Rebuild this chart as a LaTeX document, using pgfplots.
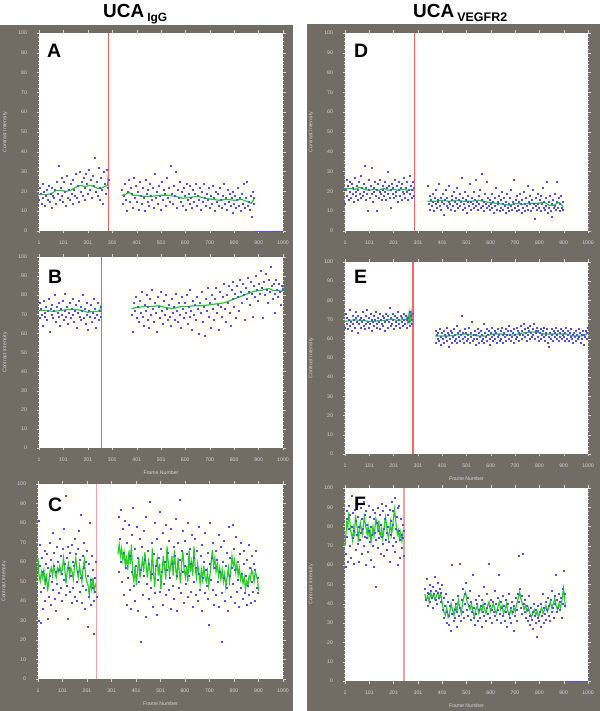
\documentclass[border=0pt]{standalone}
\usepackage{pgfplots}
\pgfplotsset{compat=1.18}
\usepackage{fontspec}
\setmainfont{Liberation Sans}
\definecolor{bgc}{RGB}{113,109,101}
\definecolor{tickc}{RGB}{215,212,205}
\definecolor{dotc}{RGB}{80,80,250}
\definecolor{avgc}{RGB}{40,205,40}
\definecolor{redc}{RGB}{250,100,100}
\definecolor{pinkc}{RGB}{245,160,160}
\pgfplotsset{
  panel/.style={
    scale only axis, xmin=1, xmax=1000, ymin=0, ymax=100,
    axis background/.style={fill=white},
    axis line style={draw=none},
    xtick={1,101,201,301,401,501,600,700,800,900,1000},
    xticklabels={1,101,201,301,401,501,600,700,800,900,1000},
    ytick={0,10,...,100},
    minor x tick num=9, minor y tick num=4,
    tick align=outside,
    major tick length=2.5bp, minor tick length=1.3bp,
    tick style={draw=tickc, line width=0.35bp},
    ticklabel style={font=\fontsize{5.2}{6}\selectfont, text=tickc},
    /pgf/number format/assume math mode=true,
    xticklabel style={yshift=-4bp},
    yticklabel style={xshift=-6bp},
    ylabel={Contrast Intensity},
    every axis y label/.style={at={(rel axis cs:0,0.5)}, xshift=-34bp, rotate=90, anchor=center, font=\fontsize{5.2}{6}\selectfont, text=tickc},
    every axis x label/.style={at={(rel axis cs:0.5,0)}, yshift=-25bp, anchor=center, font=\fontsize{5.2}{6}\selectfont, text=tickc},
    clip=false,
  },
  dots/.style={only marks, mark=square*, mark size=0.5bp, color=dotc, mark options={draw=none, fill=dotc, fill opacity=0.8}},
  avg/.style={no marks, color=avgc, line width=1.2bp},
  vline/.style={no marks, color=redc, line width=1bp},
  vlinew/.style={no marks, color=pinkc, line width=1.3bp},
}
\begin{document}
\begin{tikzpicture}[x=1bp,y=1bp]
\useasboundingbox (0,0) rectangle (600,711);
\fill[bgc] (0,0) rectangle (293,686);
\fill[bgc] (307,0) rectangle (600,687);
\node[anchor=base west, inner sep=0, font=\fontsize{19}{19}\selectfont\bfseries] at (103,693) {UCA\,\raisebox{-3.5bp}{\fontsize{12}{12}\selectfont IgG}};
\node[anchor=base west, inner sep=0, font=\fontsize{19}{19}\selectfont\bfseries] at (413,693) {UCA\,\raisebox{-3.5bp}{\fontsize{12.5}{12.5}\selectfont VEGFR2}};

% ---------------- A ----------------
\begin{axis}[panel, at={(39bp,480bp)}, anchor=south west, width=244bp, height=198bp]
\addplot[dots] coordinates {(1,16)(5,22)(9,19)(12,14)(15,24)(18,17)(22,20)(26,13)(29,18)(33,21)(36,16)(40,23)(44,15)(47,19)(51,12)(55,22)(58,18)(62,17)(66,21)(70,14)(73,25)(77,19)(80,33)(84,16)(88,22)(92,18)(95,27)(99,15)(103,25)(107,20)(110,13)(114,28)(118,17)(122,21)(126,16)(130,24)(134,19)(137,14)(141,26)(145,21)(149,18)(152,29)(156,17)(160,23)(164,15)(168,30)(171,20)(175,25)(179,18)(183,27)(187,22)(190,16)(194,29)(198,24)(202,19)(206,31)(210,21)(213,26)(217,17)(221,28)(225,23)(229,37)(232,20)(236,25)(240,18)(244,32)(248,22)(251,16)(255,27)(259,21)(262,14)(266,30)(270,24)(274,19)(278,31)(282,22)(285,26)};
\addplot[dots] coordinates {(340,21)(344,14)(348,18)(352,24)(356,16)(360,10)(364,20)(368,26)(372,15)(376,22)(380,19)(384,12)(388,27)(392,17)(396,23)(400,15)(404,20)(408,11)(412,25)(416,18)(420,14)(424,22)(428,17)(432,10)(436,26)(440,19)(444,15)(448,21)(452,13)(456,24)(460,18)(464,16)(468,22)(472,12)(476,29)(480,17)(484,20)(488,14)(492,23)(496,18)(500,11)(504,25)(508,16)(512,21)(516,19)(520,13)(524,27)(528,17)(532,22)(536,15)(540,33)(544,19)(548,14)(552,23)(556,18)(560,30)(564,12)(568,21)(572,17)(576,25)(580,15)(584,20)(588,13)(592,22)(596,18)(600,11)(604,24)(608,16)(612,19)(616,14)(620,23)(624,17)(628,12)(632,21)(636,15)(640,19)(644,24)(648,13)(652,18)(656,16)(660,22)(664,11)(668,20)(672,15)(676,24)(680,17)(684,13)(688,19)(692,16)(696,22)(700,12)(704,18)(708,14)(712,23)(716,17)(720,10)(724,20)(728,15)(732,19)(736,13)(740,22)(744,16)(748,12)(752,18)(756,24)(760,14)(764,17)(768,11)(772,21)(776,15)(780,19)(784,13)(788,17)(792,9)(796,20)(800,14)(804,18)(808,12)(812,16)(816,22)(820,13)(824,17)(828,10)(832,19)(836,14)(840,24)(844,12)(848,17)(852,25)(856,13)(860,15)(864,11)(868,18)(872,7)(876,20)(880,14)(882,17)};
\addplot[avg] coordinates {(1,18.5)(20,18.5)(40,18.5)(55,19)(70,20.5)(90,20.5)(110,20)(130,20.5)(150,22)(170,23)(190,22.5)(210,23)(225,22.5)(240,21.5)(255,21.5)(270,22.5)(282,23)(285,29)};
\addplot[avg] coordinates {(340,18)(355,18.5)(370,19.5)(385,18)(400,18)(430,17.5)(460,17.5)(500,18)(530,18)(560,17.5)(590,16.5)(620,17)(650,17.5)(680,16.5)(710,16)(740,15.5)(770,16)(800,15.5)(830,16)(850,15)(870,14)(878,15.5)(882,16)};
\addplot[vline] coordinates {(285,0)(285,100)};
\addplot[no marks, color=dotc, line width=0.8bp] coordinates {(881,0)(1000,0)};
\end{axis}

% ---------------- B ----------------
\begin{axis}[panel, at={(39bp,263bp)}, anchor=south west, width=244bp, height=191bp, xlabel={Frame Number}]
\addplot[dots] coordinates {(2,68)(5,76)(9,73)(12,70)(16,64)(19,77)(23,71)(26,69)(30,74)(34,67)(37,72)(41,78)(44,61)(48,73)(51,70)(55,75)(58,68)(62,72)(65,80)(69,66)(73,74)(76,71)(80,69)(83,76)(87,64)(90,73)(94,70)(98,77)(101,67)(105,72)(108,81)(112,69)(116,74)(119,65)(123,71)(126,76)(130,68)(134,73)(137,70)(141,78)(144,66)(148,72)(152,75)(155,63)(159,71)(162,77)(166,69)(170,74)(173,67)(177,72)(180,80)(184,68)(188,73)(191,65)(195,70)(198,76)(202,62)(206,72)(209,69)(213,75)(216,66)(220,71)(224,78)(227,68)(231,73)(234,63)(238,70)(242,76)(245,67)(249,72)(252,74)(255,69)};
\addplot[dots] coordinates {(380,70)(384,61)(388,76)(392,72)(396,79)(400,68)(404,74)(408,66)(412,77)(416,71)(420,82)(424,69)(428,64)(432,75)(436,72)(440,80)(444,67)(448,74)(452,63)(456,78)(460,70)(464,83)(468,73)(472,66)(476,76)(480,71)(484,61)(488,79)(492,74)(496,68)(500,82)(504,72)(508,65)(512,77)(516,70)(520,80)(524,73)(528,67)(532,75)(536,69)(540,64)(544,78)(548,71)(552,74)(556,67)(560,81)(564,72)(568,66)(572,76)(576,70)(580,63)(584,79)(588,73)(592,68)(596,76)(600,71)(604,80)(608,65)(612,74)(616,69)(620,83)(624,72)(628,62)(632,77)(636,70)(640,75)(644,67)(648,79)(652,73)(656,60)(660,76)(664,71)(668,82)(672,66)(676,74)(680,59)(684,78)(688,72)(692,84)(696,69)(700,76)(704,63)(708,80)(712,73)(716,67)(720,78)(724,84)(728,71)(732,75)(736,62)(740,82)(744,74)(748,69)(752,79)(756,86)(760,73)(764,66)(768,80)(772,76)(776,85)(780,71)(784,64)(788,83)(792,78)(796,87)(800,74)(804,81)(808,68)(812,85)(816,79)(820,72)(824,88)(828,82)(832,76)(836,86)(840,80)(844,67)(848,84)(852,78)(856,89)(860,82)(864,75)(868,87)(872,81)(876,69)(880,85)(884,79)(888,90)(892,83)(896,77)(900,86)(904,81)(908,93)(912,84)(916,68)(920,87)(924,80)(928,91)(932,83)(936,76)(940,88)(944,82)(948,95)(952,85)(956,78)(960,86)(964,81)(968,71)(972,88)(976,83)(980,79)(984,86)(988,82)(992,75)(996,85)(1000,83)};
\addplot[avg] coordinates {(1,72)(30,72)(60,71.5)(90,72)(120,72.5)(150,72.5)(180,72)(200,71)(220,71.5)(240,71.5)(250,72)(255,75)};
\addplot[avg] coordinates {(380,73)(400,73.5)(430,74)(460,74)(490,74.5)(520,73.5)(550,73)(580,74)(610,74)(640,74.5)(670,74.5)(700,75)(730,75.5)(760,76)(790,77.5)(820,79)(850,80.5)(880,82)(910,82.5)(940,83.5)(960,82.5)(980,82.5)(995,82)(1000,84)};
\addplot[vline] coordinates {(255,0)(255,100)};
\end{axis}

% ---------------- C ----------------
\begin{axis}[panel, at={(38bp,32bp)}, anchor=south west, width=245bp, height=195bp, xlabel={Frame Number}]
\addplot[dots] coordinates {(2,81)(4,30)(7,58)(9,69)(12,45)(14,29)(17,62)(19,36)(22,55)(24,47)(27,66)(29,40)(32,59)(34,51)(37,64)(39,31)(42,57)(44,42)(47,70)(49,53)(52,61)(54,38)(57,50)(59,75)(62,46)(64,58)(67,65)(69,41)(72,55)(74,35)(77,68)(79,49)(82,60)(84,44)(87,56)(89,72)(92,47)(94,63)(97,40)(99,54)(102,67)(104,77)(107,51)(109,59)(112,43)(114,94)(117,62)(119,48)(122,68)(124,31)(127,57)(129,45)(132,65)(134,53)(137,69)(139,39)(142,60)(144,47)(147,58)(149,72)(152,42)(154,64)(157,50)(159,40)(162,67)(164,55)(167,76)(169,45)(172,61)(174,84)(177,52)(179,39)(182,63)(184,48)(187,70)(189,57)(192,36)(194,60)(197,46)(199,66)(202,53)(204,27)(207,59)(209,42)(212,80)(214,51)(217,38)(219,63)(222,47)(224,56)(227,40)(229,23)(232,52)(234,45)(237,60)(239,42)};
\addplot[dots] coordinates {(328,55)(331,83)(334,72)(337,60)(340,87)(343,50)(346,77)(349,43)(352,65)(355,81)(358,57)(361,38)(364,70)(367,52)(370,79)(373,46)(376,63)(379,36)(382,74)(385,55)(388,88)(391,48)(394,67)(397,40)(400,58)(403,78)(406,35)(409,62)(412,50)(415,72)(418,19)(421,56)(424,68)(427,43)(430,76)(433,53)(436,61)(439,32)(442,83)(445,49)(448,66)(451,41)(454,59)(457,91)(460,47)(463,70)(466,54)(469,37)(472,64)(475,80)(478,44)(481,58)(484,33)(487,72)(490,51)(493,62)(496,86)(499,45)(502,67)(505,55)(508,38)(511,75)(514,49)(517,60)(520,43)(523,79)(526,56)(529,65)(532,46)(535,71)(538,52)(541,36)(544,77)(547,59)(550,48)(553,68)(556,41)(559,63)(562,82)(565,53)(568,35)(571,70)(574,47)(577,61)(580,92)(583,44)(586,66)(589,55)(592,76)(595,39)(598,58)(601,71)(604,49)(607,64)(610,42)(613,80)(616,53)(619,67)(622,45)(625,59)(628,74)(631,37)(634,62)(637,50)(640,72)(643,43)(646,57)(649,66)(652,40)(655,78)(658,54)(661,46)(664,63)(667,35)(670,69)(673,52)(676,60)(679,44)(682,75)(685,56)(688,48)(691,65)(694,41)(697,28)(700,59)(703,80)(706,51)(709,62)(712,46)(715,70)(718,38)(721,57)(724,66)(727,43)(730,61)(733,50)(736,74)(739,37)(742,55)(745,68)(748,44)(751,19)(754,60)(757,52)(760,71)(763,40)(766,58)(769,47)(772,65)(775,35)(778,78)(781,53)(784,62)(787,42)(790,57)(793,79)(796,49)(799,67)(802,39)(805,56)(808,73)(811,45)(814,60)(817,51)(820,37)(823,64)(826,47)(829,70)(832,54)(835,41)(838,59)(841,66)(844,44)(847,53)(850,38)(853,61)(856,48)(859,69)(862,43)(865,57)(868,39)(871,63)(874,50)(877,45)(880,59)(883,40)(886,56)(889,66)(892,47)(895,52)(898,44)};
\addplot[avg] coordinates {(1,62)(5,53)(10,50)(15,55)(20,52)(25,56)(30,48)(35,54)(40,45)(45,50)(50,55)(55,57)(60,53)(65,58)(70,55)(75,52)(80,57)(85,55)(90,58)(95,54)(100,56)(105,62)(110,57)(115,49)(120,55)(125,59)(130,53)(135,57)(140,55)(145,51)(150,58)(155,62)(160,56)(165,52)(170,58)(175,54)(180,50)(185,57)(190,61)(195,53)(200,50)(205,48)(210,43)(215,50)(220,46)(225,52)(230,45)(235,48)(240,50)};
\addplot[avg] coordinates {(327,64)(332,69)(337,63)(342,67)(347,61)(352,65)(357,58)(362,62)(367,56)(372,66)(377,59)(382,69)(387,54)(392,50)(397,58)(402,48)(407,55)(412,62)(417,52)(422,57)(427,61)(432,55)(437,65)(442,58)(447,52)(452,60)(457,56)(462,50)(467,67)(472,55)(477,47)(482,58)(487,62)(492,53)(497,59)(502,46)(507,55)(512,63)(517,57)(522,51)(527,68)(532,60)(537,54)(542,58)(547,63)(552,53)(557,66)(562,57)(567,51)(572,62)(577,55)(582,49)(587,60)(592,65)(597,56)(602,52)(607,58)(612,50)(617,66)(622,55)(627,60)(632,53)(637,68)(642,57)(647,52)(652,59)(657,54)(662,49)(667,56)(672,51)(677,58)(682,52)(687,50)(692,55)(697,48)(702,53)(707,60)(712,66)(717,58)(722,62)(727,55)(732,59)(737,53)(742,57)(747,51)(752,56)(757,50)(762,54)(767,47)(772,52)(777,57)(782,50)(787,55)(792,63)(797,58)(802,61)(807,55)(812,59)(817,53)(822,57)(827,51)(832,54)(837,49)(842,52)(847,46)(852,50)(857,48)(862,53)(867,51)(872,56)(877,54)(882,50)(887,55)(892,53)(897,50)(900,45)};
\addplot[vlinew] coordinates {(240,0)(240,100)};
\end{axis}

% ---------------- D ----------------
\begin{axis}[panel, at={(345bp,480bp)}, anchor=south west, width=243bp, height=198bp]
\addplot[dots] coordinates {(1,14)(4,21)(7,26)(10,18)(13,23)(16,16)(19,25)(22,20)(25,17)(28,24)(31,19)(34,22)(37,15)(40,27)(43,20)(46,18)(49,23)(52,16)(55,21)(58,25)(61,19)(64,17)(67,28)(70,22)(73,18)(76,24)(79,20)(82,33)(85,16)(88,22)(91,19)(94,10)(97,26)(100,21)(103,17)(106,23)(109,19)(112,32)(115,15)(118,22)(121,20)(124,25)(127,18)(130,10)(133,21)(136,24)(139,17)(142,20)(145,26)(148,19)(151,16)(154,23)(157,21)(160,18)(163,25)(166,20)(169,16)(172,22)(175,30)(178,19)(181,23)(184,17)(187,21)(190,12)(193,24)(196,19)(199,22)(202,17)(205,26)(208,20)(211,18)(214,23)(217,15)(220,21)(223,25)(226,18)(229,22)(232,16)(235,24)(238,20)(241,19)(244,27)(247,17)(250,22)(253,20)(256,25)(259,16)(262,21)(265,28)(268,19)(271,23)(274,17)(277,21)(280,25)(283,18)(285,22)};
\addplot[dots] coordinates {(342,23)(345,14)(348,18)(351,11)(354,16)(357,13)(360,19)(363,15)(366,10)(369,17)(372,14)(375,21)(378,12)(381,16)(384,15)(387,24)(390,13)(393,17)(396,11)(399,15)(402,19)(405,14)(408,8)(411,16)(414,21)(417,13)(420,17)(423,12)(426,15)(429,23)(432,14)(435,11)(438,18)(441,16)(444,13)(447,20)(450,15)(453,10)(456,17)(459,14)(462,22)(465,12)(468,16)(471,19)(474,13)(477,15)(480,27)(483,11)(486,17)(489,14)(492,20)(495,12)(498,16)(501,9)(504,15)(507,18)(510,13)(513,24)(516,15)(519,11)(522,17)(525,14)(528,20)(531,12)(534,16)(537,13)(540,26)(543,15)(546,11)(549,18)(552,14)(555,21)(558,12)(561,16)(564,29)(567,13)(570,15)(573,10)(576,19)(579,14)(582,12)(585,25)(588,17)(591,13)(594,11)(597,16)(600,14)(603,19)(606,12)(609,15)(612,9)(615,17)(618,13)(621,22)(624,11)(627,15)(630,14)(633,18)(636,10)(639,16)(642,12)(645,20)(648,14)(651,11)(654,17)(657,13)(660,9)(663,15)(666,19)(669,12)(672,14)(675,10)(678,17)(681,13)(684,21)(687,11)(690,15)(693,14)(696,26)(699,12)(702,16)(705,10)(708,18)(711,13)(714,15)(717,11)(720,19)(723,14)(726,9)(729,16)(732,12)(735,20)(738,14)(741,10)(744,17)(747,13)(750,23)(753,11)(756,15)(759,14)(762,18)(765,10)(768,16)(771,12)(774,21)(777,14)(780,6)(783,17)(786,13)(789,11)(792,19)(795,14)(798,12)(801,16)(804,10)(807,18)(810,14)(813,22)(816,12)(819,15)(822,11)(825,17)(828,13)(831,25)(834,9)(837,15)(840,12)(843,18)(846,10)(849,14)(852,7)(855,16)(858,12)(861,19)(864,13)(867,11)(870,25)(873,15)(876,12)(879,17)(882,10)(885,14)(888,18)(891,12)(894,15)(897,11)};
\addplot[avg] coordinates {(1,21.5)(20,21.5)(40,21)(60,22)(80,21)(100,20.5)(120,21)(140,20.5)(160,21.5)(180,20.5)(200,21)(220,20.5)(240,21)(260,20.5)(280,21)(285,20.5)};
\addplot[avg] coordinates {(340,15)(370,15)(400,15.5)(430,15)(460,15.5)(490,15)(520,15)(550,15.5)(570,15)(590,14.5)(620,14)(650,13.5)(680,13)(700,14)(730,13.5)(760,14)(790,14)(820,14.5)(840,13)(860,13)(880,14.5)(890,13.5)(898,12)};
\addplot[vline] coordinates {(285,0)(285,100)};
\end{axis}

% ---------------- E ----------------
\begin{axis}[panel, at={(345bp,257bp)}, anchor=south west, width=243bp, height=192bp, xlabel={Frame Number}]
\addplot[dots] coordinates {(1,66)(4,73)(7,68)(10,71)(13,65)(16,70)(19,67)(22,75)(25,69)(28,64)(31,72)(34,68)(37,70)(40,66)(43,74)(46,71)(49,69)(52,63)(55,72)(58,68)(61,70)(64,66)(67,71)(70,69)(73,74)(76,67)(79,70)(82,65)(85,72)(88,68)(91,75)(94,69)(97,66)(100,71)(103,68)(106,73)(109,70)(112,64)(115,69)(118,72)(121,67)(124,70)(127,74)(130,68)(133,66)(136,71)(139,69)(142,73)(145,65)(148,70)(151,68)(154,72)(157,67)(160,71)(163,69)(166,64)(169,73)(172,70)(175,66)(178,72)(181,69)(184,76)(187,67)(190,71)(193,68)(196,73)(199,70)(202,65)(205,72)(208,69)(211,67)(214,71)(217,74)(220,68)(223,70)(226,66)(229,72)(232,69)(235,71)(238,67)(241,73)(244,70)(247,68)(250,72)(253,70)(256,66)(259,71)(262,69)(265,74)(268,67)(271,72)(274,70)(277,68)(280,73)};
\addplot[dots] coordinates {(372,64)(375,58)(378,62)(381,60)(384,63)(387,59)(390,65)(393,61)(396,57)(399,63)(402,60)(405,64)(408,58)(411,62)(414,61)(417,66)(420,59)(423,63)(426,56)(429,62)(432,60)(435,64)(438,58)(441,63)(444,61)(447,65)(450,59)(453,62)(456,60)(459,67)(462,58)(465,63)(468,61)(471,64)(474,59)(477,62)(480,72)(483,60)(486,63)(489,58)(492,65)(495,61)(498,63)(501,59)(504,62)(507,60)(510,66)(513,58)(516,63)(519,61)(522,69)(525,59)(528,62)(531,60)(534,64)(537,57)(540,62)(543,60)(546,65)(549,58)(552,63)(555,61)(558,64)(561,59)(564,62)(567,60)(570,68)(573,58)(576,63)(579,61)(582,65)(585,59)(588,62)(591,64)(594,60)(597,57)(600,63)(603,61)(606,66)(609,59)(612,62)(615,64)(618,60)(621,63)(624,58)(627,65)(630,61)(633,62)(636,59)(639,64)(642,60)(645,66)(648,62)(651,58)(654,63)(657,61)(660,65)(663,59)(666,62)(669,64)(672,60)(675,67)(678,62)(681,59)(684,64)(687,61)(690,63)(693,58)(696,65)(699,62)(702,60)(705,66)(708,61)(711,64)(714,59)(717,63)(720,62)(723,67)(726,60)(729,64)(732,62)(735,68)(738,61)(741,65)(744,63)(747,59)(750,66)(753,62)(756,64)(759,60)(762,67)(765,63)(768,61)(771,65)(774,62)(777,68)(780,60)(783,64)(786,63)(789,66)(792,61)(795,64)(798,59)(801,63)(804,65)(807,60)(810,62)(813,64)(816,61)(819,66)(822,59)(825,63)(828,62)(831,65)(834,58)(837,61)(840,56)(843,63)(846,60)(849,65)(852,62)(855,59)(858,64)(861,61)(864,63)(867,66)(870,60)(873,62)(876,64)(879,59)(882,63)(885,61)(888,65)(891,60)(894,62)(897,64)(900,61)(903,59)(906,63)(909,66)(912,60)(915,62)(918,64)(921,59)(924,63)(927,61)(930,65)(933,60)(936,62)(939,58)(942,63)(945,61)(948,64)(951,59)(954,62)(957,60)(960,65)(963,61)(966,63)(969,58)(972,62)(975,60)(978,64)(981,57)(984,62)(987,61)(990,64)(993,60)(996,63)(999,66)};
\addplot[avg] coordinates {(1,69)(20,69.5)(40,70)(60,69.5)(80,69.5)(100,69)(120,69)(140,69.5)(160,69.5)(180,70)(200,70)(220,69.5)(240,70)(250,70)(255,71)(258,69)(261,72)(264,69)(267,73)(270,70)(273,73)(276,70)(279,75)(281,71)};
\addplot[avg] coordinates {(370,61.5)(400,61.5)(430,61.5)(460,62)(490,62.5)(520,62)(550,61.5)(580,61.5)(610,62.5)(640,62.5)(670,62)(700,62)(730,63)(760,63.5)(790,63.5)(820,62.5)(850,62.5)(880,62.5)(910,62.5)(940,61.5)(970,61.5)(990,62)(1000,63.5)};
\addplot[vline, line width=1.6bp] coordinates {(281,0)(281,100)};
\end{axis}

% ---------------- F ----------------
\begin{axis}[panel, at={(345bp,30bp)}, anchor=south west, width=243bp, height=193bp, xlabel={Frame Number}]
\addplot[dots] coordinates {(2,66)(4,59)(6,88)(8,75)(10,84)(13,62)(15,79)(17,91)(20,70)(22,86)(24,64)(27,80)(29,96)(31,74)(34,87)(36,61)(38,78)(41,89)(43,68)(45,83)(48,76)(50,95)(52,71)(55,85)(57,62)(59,80)(62,73)(64,90)(66,77)(69,66)(71,84)(73,79)(76,93)(78,70)(80,86)(83,75)(85,60)(87,88)(90,74)(92,81)(94,67)(97,91)(99,78)(101,72)(104,85)(106,63)(108,80)(111,76)(113,89)(115,70)(118,84)(120,59)(122,77)(125,87)(127,73)(129,49)(132,82)(134,69)(136,90)(139,78)(141,74)(143,86)(146,66)(148,81)(150,92)(153,75)(155,71)(157,88)(160,79)(162,65)(164,84)(167,73)(169,91)(171,77)(174,68)(176,86)(178,80)(181,72)(183,89)(185,62)(188,83)(190,76)(192,93)(195,70)(197,81)(199,88)(202,74)(204,67)(206,95)(209,79)(211,72)(213,85)(216,90)(218,60)(220,78)(223,91)(225,73)(227,64)(230,84)(232,76)(234,69)(237,81)(239,74)(241,65)(243,78)};
\addplot[dots] coordinates {(330,48)(333,42)(336,53)(339,46)(342,39)(345,45)(348,50)(351,41)(354,47)(357,43)(360,49)(363,38)(366,45)(369,54)(372,42)(375,47)(378,40)(381,46)(384,51)(387,43)(390,48)(393,41)(396,46)(399,50)(402,37)(405,43)(408,33)(411,39)(414,45)(417,30)(420,36)(423,41)(426,29)(429,34)(432,39)(435,26)(438,60)(441,35)(444,42)(447,31)(450,37)(453,33)(456,40)(459,28)(462,36)(465,44)(468,34)(471,61)(474,38)(477,31)(480,42)(483,36)(486,48)(489,33)(492,45)(495,40)(498,51)(501,37)(504,43)(507,34)(510,39)(513,47)(516,32)(519,41)(522,36)(525,55)(528,33)(531,38)(534,29)(537,42)(540,35)(543,40)(546,31)(549,37)(552,44)(555,33)(558,39)(561,28)(564,42)(567,36)(570,49)(573,34)(576,40)(579,31)(582,38)(585,45)(588,35)(591,61)(594,39)(597,33)(600,42)(603,37)(606,30)(609,41)(612,36)(615,47)(618,34)(621,40)(624,32)(627,43)(630,37)(633,55)(636,35)(639,41)(642,30)(645,38)(648,44)(651,34)(654,39)(657,31)(660,42)(663,36)(666,28)(669,40)(672,35)(675,45)(678,33)(681,38)(684,30)(687,41)(690,36)(693,26)(696,39)(699,34)(702,43)(705,37)(708,31)(711,45)(714,65)(717,41)(720,48)(723,38)(726,44)(729,35)(732,66)(735,40)(738,36)(741,42)(744,33)(747,39)(750,31)(753,37)(756,44)(759,34)(762,29)(765,38)(768,32)(771,36)(774,27)(777,40)(780,34)(783,30)(786,37)(789,23)(792,33)(795,39)(798,31)(801,36)(804,28)(807,40)(810,34)(813,45)(816,30)(819,38)(822,35)(825,41)(828,32)(831,37)(834,43)(837,34)(840,39)(843,31)(846,42)(849,36)(852,47)(855,38)(858,33)(861,44)(864,40)(867,55)(870,36)(873,42)(876,38)(879,45)(882,41)(885,37)(888,43)(891,33)(894,48)(897,40)(900,57)(903,45)(906,39)};
\addplot[avg] coordinates {(1,70)(4,75)(8,82)(12,80)(16,86)(20,84)(24,78)(28,76)(32,73)(36,79)(40,75)(44,86)(48,82)(52,79)(56,72)(60,78)(64,82)(68,79)(72,76)(76,80)(80,85)(84,82)(88,79)(92,76)(96,80)(100,75)(104,78)(108,72)(112,76)(116,80)(120,75)(124,79)(128,84)(132,82)(136,78)(140,83)(144,76)(148,75)(152,79)(156,74)(160,77)(164,82)(168,85)(172,80)(176,76)(180,74)(184,78)(188,82)(192,76)(196,79)(200,84)(204,89)(208,85)(212,80)(216,76)(220,78)(224,74)(228,77)(232,73)(236,76)(240,72)(243,74)};
\addplot[avg] coordinates {(329,45)(335,42)(341,44)(347,41)(353,46)(359,43)(365,45)(371,42)(377,44)(383,46)(389,43)(395,45)(401,40)(407,36)(413,34)(419,38)(425,33)(431,35)(437,40)(443,37)(449,34)(455,39)(461,36)(467,42)(473,38)(479,35)(485,41)(491,44)(497,46)(503,41)(509,39)(515,37)(521,40)(527,36)(533,33)(539,37)(545,39)(551,35)(557,38)(563,36)(569,40)(575,37)(581,35)(587,39)(593,41)(599,36)(605,38)(611,40)(617,37)(623,35)(629,38)(635,41)(641,37)(647,39)(653,35)(659,37)(665,40)(671,36)(677,34)(683,37)(689,35)(695,38)(701,36)(707,40)(713,43)(719,46)(725,42)(731,40)(737,37)(743,39)(749,36)(755,38)(761,35)(767,33)(773,35)(779,37)(785,34)(791,36)(797,33)(803,36)(809,38)(815,35)(821,37)(827,39)(833,36)(839,38)(845,41)(851,38)(857,40)(863,43)(869,39)(875,37)(881,40)(887,38)(893,42)(899,48)(903,44)(907,38)};
\addplot[vlinew] coordinates {(243,0)(243,100)};
\addplot[no marks, color=dotc, line width=0.8bp] coordinates {(905,0)(1000,0)};
\end{axis}

% panel letters
\begin{scope}[every node/.style={anchor=base west, inner sep=0, font=\fontsize{19.5}{19.5}\selectfont\bfseries}]
\node at (47,653) {A};
\node at (48,427) {B};
\node at (48,199) {C};
\node at (354,653) {D};
\node at (354,427) {E};
\node at (354,200) {F};
\end{scope}
\end{tikzpicture}
\end{document}
